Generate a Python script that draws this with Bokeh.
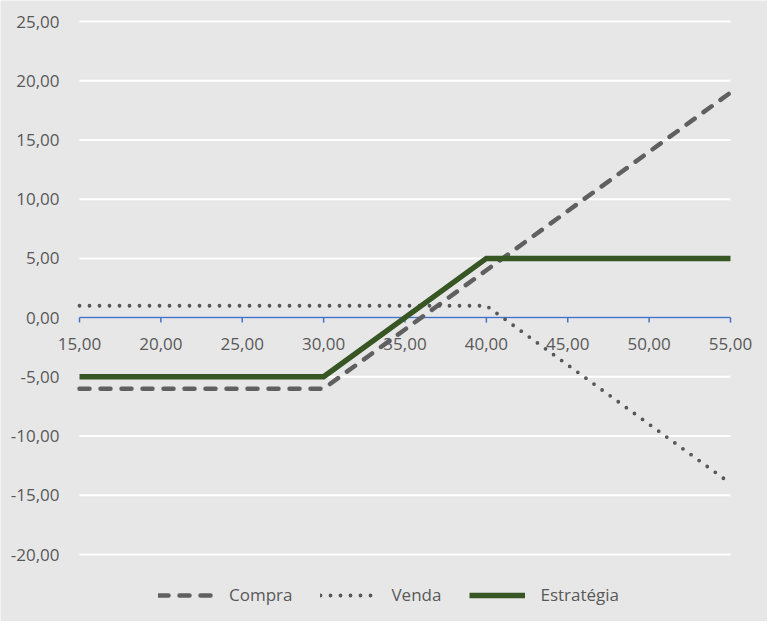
from bokeh.plotting import figure
from bokeh.models import Range1d, Legend, LegendItem
from bokeh.core.properties import value
from bokeh.embed import file_html
from bokeh.resources import INLINE

# Data
preco = [15, 20, 25, 30, 35, 40, 45, 50, 55]
compra = [-6, -6, -6, -6, -1, 4, 9, 14, 19]
venda = [1, 1, 1, 1, 1, 1, -4, -9, -14]
estrategia = [-5, -5, -5, -5, 0, 5, 5, 5, 5]
x_ticks = [15, 20, 25, 30, 35, 40, 45, 50, 55]
y_ticks = [-20, -15, -10, -5, 0, 5, 10, 15, 20, 25]

def fmt(v):
    return f"{v:.2f}".replace(".", ",")

x_labels = [fmt(v) for v in x_ticks]
y_labels = [fmt(v) for v in y_ticks]

BG = "#E7E7E7"
TXT = "#595959"
FONT = "Open Sans"
FS = "17px"

# layout (pixels) of the plotting area inside the figure
W, H = 767, 621
LEFT, RIGHT, TOP, BOTTOM = 79, 37, 21, 67
x0, x1 = x_ticks[0], x_ticks[-1]
y0, y1 = y_ticks[0], y_ticks[-1]
sx = (W - LEFT - RIGHT) / (x1 - x0)
sy = (H - TOP - BOTTOM) / (y1 - y0)

p = figure(width=W, height=H, output_backend="svg", toolbar_location=None,
           x_range=Range1d(x0 - LEFT / sx, x1 + RIGHT / sx),
           y_range=Range1d(y0 - BOTTOM / sy, y1 + TOP / sy),
           x_axis_location=None, y_axis_location=None, min_border=0)
p.background_fill_color = BG
p.border_fill_color = BG
p.outline_line_color = None
p.grid.visible = False

# horizontal gridlines
p.segment(x0=[x0] * len(y_ticks), x1=[x1] * len(y_ticks), y0=y_ticks, y1=y_ticks,
          line_color="white", line_width=2)

# y tick labels
p.text(x=[x0] * len(y_ticks), y=y_ticks, text=y_labels, x_offset=-20,
       text_align="right", text_baseline="middle", text_color=TXT,
       text_font=value(FONT), text_font_size=FS)

# x axis at y = 0
tick_len = 5 / sy
p.segment(x0=[x0], x1=[x1], y0=[0], y1=[0], line_color="#4472C4", line_width=1.5)
p.segment(x0=x_ticks, x1=x_ticks, y0=[0] * len(x_ticks), y1=[-tick_len] * len(x_ticks),
          line_color="#4472C4", line_width=1.5)
p.text(x=x_ticks, y=[0] * len(x_ticks), text=x_labels, y_offset=20,
       text_align="center", text_baseline="top", text_color=TXT,
       text_font=value(FONT), text_font_size=FS)

# series
r_c = p.line(preco, compra, line_color="#606060", line_width=4.5, line_dash="10 11",
             line_cap="round", line_join="round")
r_v = p.line(preco, venda, line_color="#575757", line_width=3.8, line_dash="0 10",
             line_cap="round", line_join="round")
r_e = p.line(preco, estrategia, line_color="#375623", line_width=5.5, line_join="miter")

legend = Legend(items=[LegendItem(label="Compra", renderers=[r_c]),
                       LegendItem(label="Venda", renderers=[r_v]),
                       LegendItem(label="Estratégia", renderers=[r_e])],
                orientation="horizontal", location=(158, 15),
                background_fill_alpha=0, border_line_color=None,
                glyph_width=56, glyph_height=20, label_standoff=15, spacing=28,
                label_text_font=FONT, label_text_font_size=FS, label_text_color=TXT,
                label_height=20, margin=0, padding=0)
p.add_layout(legend, "center")

open("out.html", "w").write(file_html(p, INLINE))
